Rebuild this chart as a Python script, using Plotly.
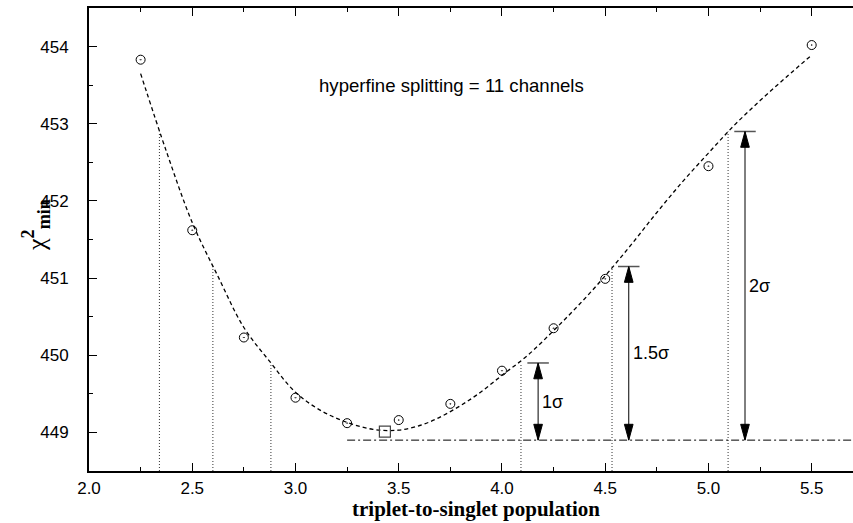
import plotly.graph_objects as go

# ---- data ----
pop = [2.25, 2.5, 2.75, 3.0, 3.25, 3.5, 3.75, 4.0, 4.25, 4.5, 5.0, 5.5]
chi2 = [453.83, 451.62, 450.23, 449.45, 449.12, 449.16, 449.37, 449.80, 450.35, 450.99, 452.45, 454.02]

fit_x = [2.25, 2.375, 2.5, 2.625, 2.75, 2.875, 3.0, 3.125, 3.25, 3.375, 3.5, 3.625, 3.75,
         3.875, 4.0, 4.125, 4.25, 4.375, 4.5, 4.625, 4.75, 4.875, 5.0, 5.125, 5.25, 5.375, 5.5]
fit_y = [453.65, 452.64, 451.72, 451.02, 450.36, 449.92, 449.52, 449.28, 449.13, 449.04, 449.03,
         449.11, 449.27, 449.48, 449.74, 450.00, 450.32, 450.66, 451.03, 451.43, 451.85, 452.25,
         452.62, 452.98, 453.30, 453.60, 453.89]

best_x = [3.433]
best_y = [449.01]

baseline = 448.9
baseline_start = 3.25
sigma_labels = ["1σ", "1.5σ", "2σ"]
sigma_levels = [449.9, 451.15, 452.9]
left_cross = [2.881, 2.60, 2.341]
right_cross = [4.092, 4.533, 5.095]
arrow_x = [4.175, 4.614, 5.177]

x_ticks = [2.0, 2.5, 3.0, 3.5, 4.0, 4.5, 5.0, 5.5]
y_ticks = [449, 450, 451, 452, 453, 454]
x_range = [2.0, 5.7]
y_range = [448.5, 454.5]

# ---- style ----
SANS = "Liberation Sans, Arial, Helvetica, sans-serif"
SERIF = "Liberation Serif, Times New Roman, serif"
head_len = 0.205   # in y data units
head_hw = 0.021    # in x data units
bar_hw = 0.052
W, H = 853, 523
ML, MT, MB = 89, 8, 52
PW, PH = W - ML, H - MT - MB

fig = go.Figure()

# dotted verticals
vx, vy = [], []
for xs in (left_cross, right_cross):
    for xv, lv in zip(xs, sigma_levels):
        vx += [xv, xv, None]
        vy += [y_range[0], lv, None]
fig.add_trace(go.Scatter(x=vx, y=vy, mode="lines",
                         line=dict(color="#333", width=1, dash="1px,2px"),
                         hoverinfo="skip", showlegend=False))

# baseline dash-dot
fig.add_trace(go.Scatter(x=[baseline_start, x_range[1]], y=[baseline, baseline], mode="lines",
                         line=dict(color="black", width=1, dash="8px,3px,2px,3px"),
                         hoverinfo="skip", showlegend=False))

# fit curve
fig.add_trace(go.Scatter(x=fit_x, y=fit_y, mode="lines",
                         line=dict(color="black", width=1.3, dash="4px,3px", shape="spline", smoothing=1.0),
                         hoverinfo="skip", showlegend=False))

# data points
fig.add_trace(go.Scatter(x=pop, y=chi2, mode="markers",
                         marker=dict(symbol="circle-open-dot", size=9, color="black", line=dict(width=1)),
                         showlegend=False))

# best point
fig.add_trace(go.Scatter(x=best_x, y=best_y, mode="markers",
                         marker=dict(symbol="square-open", size=11, color="#444", line=dict(width=1.2)),
                         showlegend=False))

shapes = []
annotations = []
for ax_, lv, lab in zip(arrow_x, sigma_levels, sigma_labels):
    shapes.append(dict(type="line", xref="x", yref="y", x0=ax_, x1=ax_, y0=baseline, y1=lv,
                       line=dict(color="black", width=1)))
    shapes.append(dict(type="line", xref="x", yref="y", x0=ax_ - bar_hw, x1=ax_ + bar_hw, y0=lv, y1=lv,
                       line=dict(color="#555", width=1.5)))
    up = f"M {ax_} {lv} L {ax_ - head_hw} {lv - head_len} L {ax_ + head_hw} {lv - head_len} Z"
    dn = f"M {ax_} {baseline} L {ax_ - head_hw} {baseline + head_len} L {ax_ + head_hw} {baseline + head_len} Z"
    for p in (up, dn):
        shapes.append(dict(type="path", xref="x", yref="y", path=p,
                           fillcolor="black", line=dict(color="black", width=1)))
    annotations.append(dict(x=ax_, y=(baseline + lv) / 2, xref="x", yref="y",
                            text=lab, showarrow=False, xanchor="left", xshift=2,
                            font=dict(family=SANS, size=18, color="black")))

annotations.append(dict(x=3.755, y=453.5, xref="x", yref="y", text="hyperfine splitting = 11 channels",
                        showarrow=False, font=dict(family=SANS, size=18.6, color="black")))

annotations.append(dict(x=(36 - ML) / PW, y=(H - MB - 225) / PH, xref="paper", yref="paper", textangle=-90,
                        xanchor="center", yanchor="middle",
                        text="χ<sup><b>2</b></sup><sub><b>min</b></sub>", showarrow=False,
                        font=dict(family=SERIF, size=26, color="black")))

annotations.append(dict(x=(476 - ML) / PW, y=(H - MB - 509) / PH, xref="paper", yref="paper",
                        xanchor="center", yanchor="middle",
                        text="<b>triplet-to-singlet population</b>", showarrow=False,
                        font=dict(family=SERIF, size=21, color="black")))

fig.update_layout(
    width=W, height=H,
    margin=dict(l=ML, r=0, t=MT, b=MB, autoexpand=False),
    paper_bgcolor="white", plot_bgcolor="white",
    shapes=shapes, annotations=annotations,
    xaxis=dict(range=x_range, tickvals=x_ticks, ticktext=[f"{v:.1f}" for v in x_ticks],
               ticks="inside", ticklen=8, tickwidth=1, tickcolor="black",
               showline=True, linewidth=2, linecolor="black", mirror="allticks",
               showgrid=False, zeroline=False, ticklabelstandoff=1, automargin=False,
               minor=dict(dtick=0.25, tick0=2.0, ticks="inside", ticklen=4, tickwidth=1, tickcolor="black", showgrid=False),
               tickfont=dict(family=SANS, size=17, color="black")),
    yaxis=dict(range=y_range, tickvals=y_ticks,
               ticks="inside", ticklen=8, tickwidth=1, tickcolor="black",
               showline=True, linewidth=2, linecolor="black", mirror=False,
               showgrid=False, zeroline=False, ticklabelstandoff=15, automargin=False,
               minor=dict(dtick=0.5, tick0=449, ticks="inside", ticklen=4, tickwidth=1, tickcolor="black", showgrid=False),
               tickfont=dict(family=SANS, size=17, color="black")),
)

fig.write_html("out.html", config={"displayModeBar": False},
               post_script="document.body.style.margin='0';document.body.style.overflow='hidden';")
